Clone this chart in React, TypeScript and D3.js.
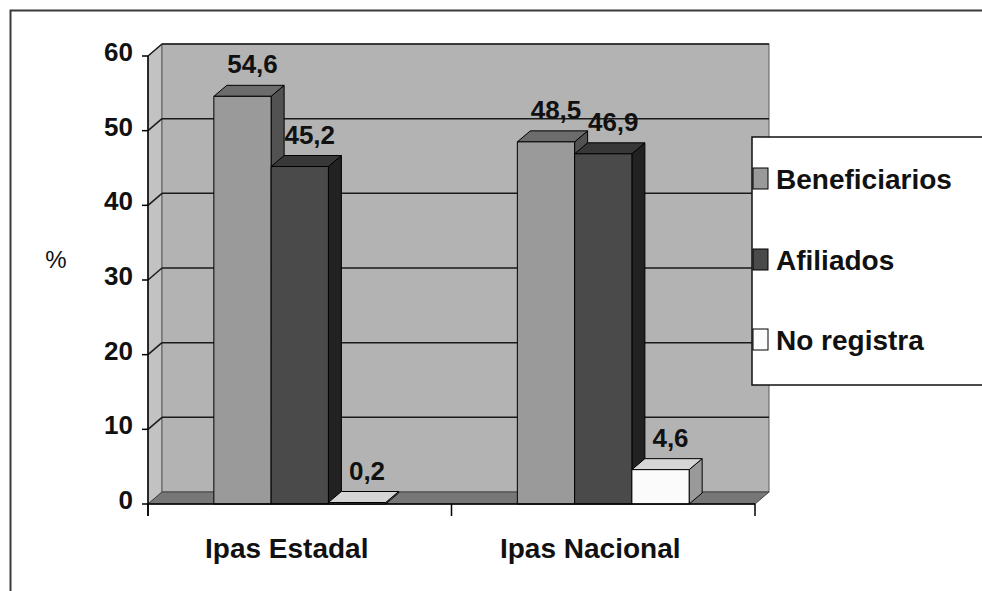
import React from "react";
import * as d3 from "d3";

// Chart data
const categories = ["Ipas Estadal", "Ipas Nacional"];
const seriesNames = ["Beneficiarios", "Afiliados", "No registra"];
const beneficiarios = [54.6, 48.5];
const afiliados = [45.2, 46.9];
const noRegistra = [0.2, 4.6];
const valueLabels = [
  ["54,6", "48,5"],
  ["45,2", "46,9"],
  ["0,2", "4,6"],
];
const yTicks = [0, 10, 20, 30, 40, 50, 60];

const seriesValues = [beneficiarios, afiliados, noRegistra];

// Face colours per series: front, top, side
const faceColors = [
  { front: "#9a9a9a", top: "#6c6c6c", side: "#525252" },
  { front: "#4a4a4a", top: "#383838", side: "#222222" },
  { front: "#fbfbfb", top: "#d6d6d6", side: "#9a9a9a" },
];

const W = 982;
const H = 591;
const FONT = "'Liberation Sans', Arial, sans-serif";

// Plot geometry (front plane)
const left = 148;
const right = 755;
const bottom = 504;
const top = 56;
// Depth offset of the walls and bars
const wdx = 14;
const wdy = -12;
const bdx = 13;
const bdy = -11;

export default function App() {
  const y = d3.scaleLinear().domain([0, 60]).range([bottom, top]);
  const x0 = d3.scaleBand<string>().domain(categories).range([left, right]).padding(0);
  const x1 = d3
    .scaleBand<string>()
    .domain(seriesNames)
    .range([0, x0.bandwidth()])
    .paddingInner(0)
    .paddingOuter(1.15);

  const pts = (arr: number[][]) => arr.map((p) => p.join(",")).join(" ");

  const bars: React.ReactNode[] = [];
  const labels: React.ReactNode[] = [];
  categories.forEach((cat, ci) => {
    seriesNames.forEach((s, si) => {
      const v = seriesValues[si][ci];
      const bx = (x0(cat) as number) + (x1(s) as number);
      const bw = x1.bandwidth();
      const yt = y(v);
      const yb = y(0);
      const c = faceColors[si];
      bars.push(
        <g key={`${cat}-${s}`} stroke="#000" strokeWidth={1} strokeLinejoin="round">
          <polygon
            points={pts([
              [bx + bw, yt],
              [bx + bw + bdx, yt + bdy],
              [bx + bw + bdx, yb + bdy],
              [bx + bw, yb],
            ])}
            fill={c.side}
          />
          <polygon
            points={pts([
              [bx, yt],
              [bx + bdx, yt + bdy],
              [bx + bw + bdx, yt + bdy],
              [bx + bw, yt],
            ])}
            fill={c.top}
          />
          <rect x={bx} y={yt} width={bw} height={yb - yt} fill={c.front} />
        </g>
      );
      labels.push(
        <text
          key={`lbl-${cat}-${s}`}
          x={bx + bw / 2 + 10}
          y={yt - 23}
          textAnchor="middle"
          fontFamily={FONT}
          fontWeight="bold"
          fontSize={26}
          fill="#111"
        >
          {valueLabels[si][ci]}
        </text>
      );
    });
  });

  const legendY = [179, 260, 340];

  return (
    <svg
      width={W}
      height={H}
      style={{ position: "absolute", left: 0, top: 0, background: "#fff" }}
    >
      {/* outer chart frame */}
      <rect x={10.5} y={10.5} width={W + 20} height={H + 20} fill="#fff" stroke="#3a3a3a" strokeWidth={2} />

      {/* side wall */}
      <polygon
        points={pts([
          [left, top],
          [left + wdx, top + wdy],
          [left + wdx, bottom + wdy],
          [left, bottom],
        ])}
        fill="#c2c2c2"
        stroke="#666"
        strokeWidth={1}
      />
      {/* back wall */}
      <rect
        x={left + wdx}
        y={top + wdy}
        width={right - left}
        height={bottom - top}
        fill="#b3b3b3"
        stroke="#5a5a5a"
        strokeWidth={1}
      />
      {/* floor */}
      <polygon
        points={pts([
          [left, bottom],
          [right, bottom],
          [right + wdx, bottom + wdy],
          [left + wdx, bottom + wdy],
        ])}
        fill="#777"
        stroke="#444"
        strokeWidth={1}
      />

      {/* gridlines on back and side walls */}
      {yTicks
        .filter((t) => t > 0)
        .map((t) => (
          <g key={`g-${t}`} stroke="#1a1a1a" strokeWidth={1.5} fill="none">
            <line x1={left + wdx} x2={right + wdx} y1={y(t) + wdy} y2={y(t) + wdy} />
            <line x1={left} x2={left + wdx} y1={y(t)} y2={y(t) + wdy} />
          </g>
        ))}

      {/* bars */}
      {bars}

      {/* axes */}
      <g stroke="#000" strokeWidth={1.5}>
        <line x1={left} x2={left} y1={top} y2={bottom + 12} />
        <line x1={left} x2={right} y1={bottom} y2={bottom} />
        {yTicks.map((t) => (
          <line key={`yt-${t}`} x1={left - 6} x2={left} y1={y(t)} y2={y(t)} />
        ))}
        {[left, ...categories.map((c) => (x0(c) as number) + x0.bandwidth())].map((xx, i) => (
          <line key={`xt-${i}`} x1={xx} x2={xx} y1={bottom} y2={bottom + 12} />
        ))}
      </g>

      {/* y tick labels */}
      {yTicks.map((t) => (
        <text
          key={`ytl-${t}`}
          x={133}
          y={y(t) - 4}
          textAnchor="end"
          dominantBaseline="central"
          fontFamily={FONT}
          fontWeight="bold"
          fontSize={26}
          fill="#111"
        >
          {t}
        </text>
      ))}

      {/* y axis title */}
      <text x={56} y={268} textAnchor="middle" fontFamily={FONT} fontSize={24} fill="#111">
        %
      </text>

      {/* category labels */}
      {categories.map((c) => (
        <text
          key={`cl-${c}`}
          x={(x0(c) as number) + x0.bandwidth() / 2 - 13}
          y={558}
          textAnchor="middle"
          fontFamily={FONT}
          fontWeight="bold"
          fontSize={28}
          fill="#111"
        >
          {c}
        </text>
      ))}

      {/* value labels */}
      {labels}

      {/* legend */}
      <rect x={752} y={137} width={260} height={248} fill="#fff" stroke="#111" strokeWidth={1.5} />
      {seriesNames.map((s, i) => (
        <g key={`lg-${s}`}>
          <rect
            x={753}
            y={legendY[i] - 11}
            width={15}
            height={21}
            fill={faceColors[i].front}
            stroke="#000"
            strokeWidth={1}
          />
          <text
            x={776}
            y={legendY[i] + 10}
            fontFamily={FONT}
            fontWeight="bold"
            fontSize={28}
            fill="#111"
          >
            {s}
          </text>
        </g>
      ))}
    </svg>
  );
}
